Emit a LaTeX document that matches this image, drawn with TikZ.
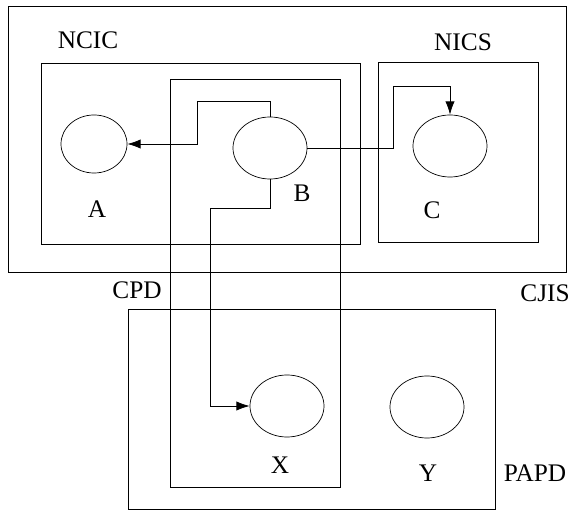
\documentclass[tikz,border=0pt]{standalone}
\usepackage{fontspec}
\setmainfont{Liberation Serif}
\usetikzlibrary{shapes.geometric,arrows.meta}
\tikzset{
  box/.style={draw, line width=0.6pt},
  blob/.style={draw, ellipse, line width=0.5pt, inner sep=0pt, minimum width=1.85cm, minimum height=1.55cm},
  lbl/.style={font=\fontsize{18}{21}\selectfont, inner sep=0pt},
  arr/.style={-{Latex[length=0.33cm, width=0.23cm]}, line width=0.6pt}
}
\begin{document}
\begin{tikzpicture}[x=0.025cm, y=-0.025cm]
			\useasboundingbox (0,0) rectangle (572,510);
			% boxes
			\draw[box] (8,6) rectangle (566,272);
			\draw[box] (41,63) rectangle (360,244);
			\draw[box] (378,62) rectangle (538,242);
			\draw[box] (170,79) rectangle (340,487);
			\draw[box] (128,309) rectangle (495,509);
			% box names
			\node[lbl] (ncic) at (88,40) {NCIC};
			\node[lbl] (nics) at (463,42) {NICS};
			\node[lbl] (cpd) at (137,290) {CPD};
			\node[lbl] (cjis) at (545,293) {CJIS};
			\node[lbl] (papd) at (535,473) {PAPD};
			% agencies
			\node[blob, minimum width=1.65cm, minimum height=1.45cm] (A) at (94,144) {};
			\node[blob] (B) at (270,148) {};
			\node[blob] (C) at (450,146) {};
			\node[blob] (X) at (287,406) {};
			\node[blob] (Y) at (427,407) {};
			\node[lbl] (la) at (97,209) {A};
			\node[lbl] (lb) at (302,193) {B};
			\node[lbl] (lc) at (432,210) {C};
			\node[lbl] (lx) at (280,465) {X};
			\node[lbl] (ly) at (428,473) {Y};
			% links
			\draw[arr] (B.north) |- (197,101) |- (A.east);
			\draw[arr] (B.east) -| (393,86) -| (C.north);
			\draw[arr] (B.south) |- (210,208) |- (X.west);
		\end{tikzpicture}
\end{document}
